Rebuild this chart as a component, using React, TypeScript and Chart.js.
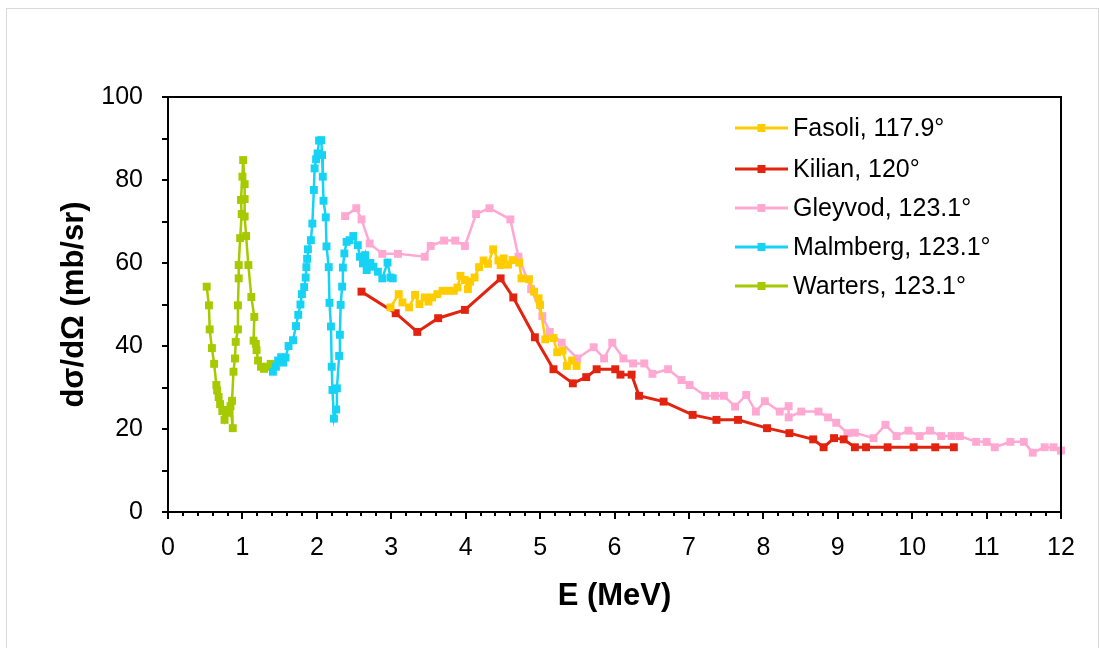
import React, { useEffect, useRef } from 'react';
import { Chart, registerables } from 'chart.js';

Chart.register(...registerables);

const FONT = '"Liberation Sans", Arial, Helvetica, sans-serif';

// ---- data (E in MeV, dσ/dΩ in mb/sr) ----
const fasoliE = [2.99, 3.10, 3.15, 3.24, 3.32, 3.38, 3.45, 3.50, 3.55, 3.62, 3.69, 3.77, 3.84, 3.89, 3.93, 3.99, 4.03, 4.06, 4.12, 4.18, 4.24, 4.30, 4.37, 4.44, 4.47, 4.51, 4.57, 4.63, 4.72, 4.75, 4.85, 4.92, 4.98, 5.00, 5.07, 5.18, 5.23, 5.30, 5.36, 5.43, 5.49];
const fasoliV = [49.3, 52.5, 50.5, 49.3, 52.3, 50.1, 51.7, 50.7, 51.7, 52.5, 53.3, 53.3, 53.3, 54.1, 56.9, 55.9, 53.7, 55.5, 56.5, 59.0, 60.6, 59.8, 63.3, 60.6, 59.5, 61.1, 59.6, 60.7, 60.1, 56.3, 56.1, 53.1, 51.5, 49.9, 41.6, 41.9, 38.5, 38.9, 35.2, 36.5, 35.2];

const kilianE = [2.60, 3.06, 3.35, 3.63, 3.99, 4.47, 4.64, 4.93, 5.18, 5.44, 5.62, 5.76, 6.01, 6.08, 6.23, 6.33, 6.66, 7.05, 7.37, 7.66, 8.05, 8.35, 8.67, 8.81, 8.95, 9.08, 9.23, 9.38, 9.67, 10.02, 10.31, 10.56];
const kilianV = [53.1, 47.9, 43.4, 46.7, 48.7, 56.3, 51.7, 42.1, 34.4, 31.0, 32.5, 34.4, 34.4, 33.1, 33.1, 28.0, 26.6, 23.4, 22.2, 22.2, 20.2, 19.0, 17.5, 15.6, 17.8, 17.5, 15.6, 15.6, 15.6, 15.6, 15.6, 15.6];

const gleyvodE = [2.38, 2.53, 2.60, 2.71, 2.88, 3.09, 3.45, 3.53, 3.71, 3.86, 3.99, 4.14, 4.32, 4.60, 4.71, 4.88, 5.03, 5.13, 5.29, 5.50, 5.72, 5.86, 5.97, 6.12, 6.25, 6.40, 6.51, 6.72, 6.90, 7.01, 7.22, 7.35, 7.47, 7.62, 7.77, 7.90, 8.02, 8.22, 8.34, 8.34, 8.51, 8.74, 8.87, 8.98, 9.13, 9.23, 9.48, 9.64, 9.79, 9.95, 10.10, 10.24, 10.39, 10.53, 10.64, 10.86, 11.00, 11.11, 11.32, 11.50, 11.62, 11.78, 11.90, 12.00];
const gleyvodV = [71.3, 73.2, 70.5, 64.7, 62.2, 62.2, 61.5, 64.1, 65.4, 65.4, 64.1, 71.8, 73.2, 70.5, 61.5, 53.7, 47.2, 43.4, 40.8, 37.0, 39.7, 37.0, 40.8, 37.0, 35.8, 35.8, 33.3, 34.4, 31.8, 30.6, 28.0, 28.0, 28.0, 25.4, 28.2, 24.2, 26.7, 24.2, 25.5, 22.8, 24.2, 24.2, 22.8, 21.5, 19.0, 19.1, 17.8, 21.0, 18.3, 19.6, 18.3, 19.6, 18.3, 18.3, 18.3, 16.9, 16.9, 15.6, 16.9, 16.9, 14.3, 15.6, 15.6, 14.8];

const malmbergE = [1.41, 1.45, 1.48, 1.52, 1.55, 1.58, 1.62, 1.68, 1.72, 1.75, 1.78, 1.80, 1.83, 1.85, 1.86, 1.87, 1.88, 1.92, 1.94, 1.96, 1.97, 1.99, 2.01, 2.03, 2.06, 2.07, 2.08, 2.09, 2.12, 2.13, 2.16, 2.17, 2.19, 2.20, 2.21, 2.23, 2.26, 2.27, 2.30, 2.31, 2.32, 2.34, 2.35, 2.37, 2.40, 2.44, 2.49, 2.55, 2.58, 2.62, 2.65, 2.67, 2.72, 2.76, 2.82, 2.88, 2.95, 2.99, 3.02];
const malmbergV = [33.8, 35.0, 36.5, 37.3, 36.0, 37.2, 40.0, 41.4, 44.8, 47.5, 50.0, 52.5, 54.2, 56.5, 59.0, 61.0, 63.3, 65.5, 69.5, 77.6, 82.8, 85.0, 86.4, 89.5, 89.6, 86.0, 80.8, 75.0, 71.0, 64.0, 59.0, 50.4, 44.7, 35.0, 29.4, 22.5, 24.7, 29.8, 37.6, 42.7, 49.9, 54.3, 58.9, 62.3, 65.1, 65.5, 66.5, 64.3, 61.5, 59.9, 61.9, 58.3, 60.0, 59.1, 57.9, 56.3, 60.1, 56.5, 56.3];

const wartersE = [0.52, 0.55, 0.56, 0.59, 0.62, 0.65, 0.66, 0.68, 0.70, 0.73, 0.76, 0.79, 0.82, 0.84, 0.87, 0.86, 0.88, 0.90, 0.91, 0.94, 0.94, 0.95, 0.95, 0.97, 0.99, 0.98, 1.00, 1.01, 1.03, 1.03, 1.03, 1.05, 1.08, 1.12, 1.16, 1.15, 1.18, 1.19, 1.21, 1.25, 1.29, 1.34, 1.38];
const wartersV = [54.3, 49.8, 44.0, 39.5, 35.7, 30.6, 29.3, 27.7, 26.0, 24.3, 22.2, 24.6, 23.9, 25.5, 20.2, 26.8, 33.8, 37.0, 41.0, 44.0, 49.8, 56.3, 59.5, 66.0, 71.8, 75.2, 80.8, 84.8, 79.0, 75.4, 71.2, 66.5, 59.5, 51.8, 47.0, 41.3, 40.5, 39.0, 36.5, 35.0, 34.5, 35.0, 35.7];

const seriesNames = ['Fasoli, 117.9°', 'Kilian, 120°', 'Gleyvod, 123.1°', 'Malmberg, 123.1°', 'Warters, 123.1°'];
const seriesColors = ['#FFCC00', '#E2230F', '#FFA8D2', '#16D3F6', '#A6C900'];
const seriesE = [fasoliE, kilianE, gleyvodE, malmbergE, wartersE];
const seriesV = [fasoliV, kilianV, gleyvodV, malmbergV, wartersV];

const xTickValues = [0, 1, 2, 3, 4, 5, 6, 7, 8, 9, 10, 11, 12];
const yTickValues = [0, 20, 40, 60, 80, 100];

export default function App() {
  const ref = useRef<HTMLCanvasElement>(null);

  useEffect(() => {
    const canvas = ref.current;
    if (!canvas) return;

    const decor = {
      id: 'decor',
      beforeDraw(chart: any) {
        const ctx = chart.ctx;
        ctx.save();
        ctx.fillStyle = '#ffffff';
        ctx.fillRect(0, 0, chart.width, chart.height);
        ctx.strokeStyle = '#d9d9d9';
        ctx.lineWidth = 1;
        ctx.strokeRect(6.5, 8.5, 1092, 660);
        ctx.restore();
      },
      afterDatasetsDraw(chart: any) {
        const { ctx, chartArea: a, scales } = chart;
        const xs = scales.x;
        const ys = scales.y;
        ctx.save();
        ctx.strokeStyle = '#000';
        ctx.lineWidth = 2;
        ctx.strokeRect(a.left, a.top, a.right - a.left, a.bottom - a.top);
        // x ticks (minor every 0.2, major every 1)
        ctx.beginPath();
        for (let k = 0; k <= 60; k++) {
          const px = Math.round(xs.getPixelForValue(k * 0.2));
          const len = k % 5 === 0 ? 7 : 4;
          ctx.moveTo(px, a.bottom);
          ctx.lineTo(px, a.bottom + len);
        }
        // y ticks every 10
        for (let k = 0; k <= 10; k++) {
          const py = Math.round(ys.getPixelForValue(k * 10));
          ctx.moveTo(a.left - 6, py);
          ctx.lineTo(a.left, py);
        }
        ctx.stroke();
        ctx.restore();
      },
      afterDraw(chart: any) {
        const ctx = chart.ctx;
        ctx.save();
        const x0 = 735, x1 = 788, tx = 793;
        const rows = [128, 169, 208, 247, 286];
        chart.data.datasets.forEach((ds: any, i: number) => {
          const yy = rows[i];
          ctx.strokeStyle = ds.borderColor;
          ctx.lineWidth = 3;
          ctx.beginPath();
          ctx.moveTo(x0, yy);
          ctx.lineTo(x1, yy);
          ctx.stroke();
          ctx.fillStyle = ds.borderColor;
          ctx.fillRect((x0 + x1) / 2 - 4, yy - 4, 8, 8);
          ctx.fillStyle = '#000';
          ctx.font = `25px ${FONT}`;
          ctx.textBaseline = 'middle';
          ctx.textAlign = 'left';
          ctx.fillText(ds.label, tx, yy + 1);
        });
        ctx.restore();
      },
    };

    const datasets = seriesNames.map((name, i) => ({
      label: name,
      data: seriesE[i].map((e, j) => ({ x: e, y: seriesV[i][j] })),
      borderColor: seriesColors[i],
      backgroundColor: seriesColors[i],
      pointBackgroundColor: seriesColors[i],
      pointBorderWidth: 0,
      pointStyle: 'rect',
      pointRadius: 5.6,
      borderWidth: i === 1 ? 3 : 2.5,
      showLine: true,
      tension: 0,
      clip: 6,
    }));

    const chart = new Chart(canvas, {
      type: 'scatter',
      data: { datasets },
      options: {
        animation: false,
        responsive: false,
        events: [],
        layout: { padding: { left: 0, right: 38, top: 97, bottom: 0 } },
        plugins: {
          legend: { display: false },
          tooltip: { enabled: false },
        },
        scales: {
          x: {
            type: 'linear',
            position: 'bottom',
            min: 0,
            max: 12,
            grid: { display: false, drawTicks: false },
            border: { display: false },
            afterBuildTicks: (s: any) => {
              s.ticks = xTickValues.map((v) => ({ value: v }));
            },
            afterFit: (s: any) => {
              s.height = 136;
            },
            ticks: {
              autoSkip: false,
              maxRotation: 0,
              padding: 21,
              color: '#000',
              font: { family: FONT, size: 25 },
            },
            title: {
              display: true,
              text: 'E (MeV)',
              color: '#000',
              font: { family: FONT, size: 31, weight: 'bold' },
              padding: { top: 0, bottom: 33 },
            },
          },
          y: {
            type: 'linear',
            min: 0,
            max: 100,
            grid: { display: false, drawTicks: false },
            border: { display: false },
            afterBuildTicks: (s: any) => {
              s.ticks = yTickValues.map((v) => ({ value: v }));
            },
            afterFit: (s: any) => {
              s.width = 168;
            },
            ticks: {
              padding: 25,
              color: '#000',
              font: { family: FONT, size: 25 },
            },
            title: {
              display: true,
              text: 'dσ/dΩ (mb/sr)',
              color: '#000',
              font: { family: FONT, size: 31, weight: 'bold' },
              padding: { top: 56, bottom: 0 },
            },
          },
        },
      },
      plugins: [decor],
    } as any);

    return () => chart.destroy();
  }, []);

  return (
    <canvas
      ref={ref}
      width={1099}
      height={648}
      style={{ position: 'fixed', left: 0, top: 0, width: 1099, height: 648, display: 'block' }}
    />
  );
}
